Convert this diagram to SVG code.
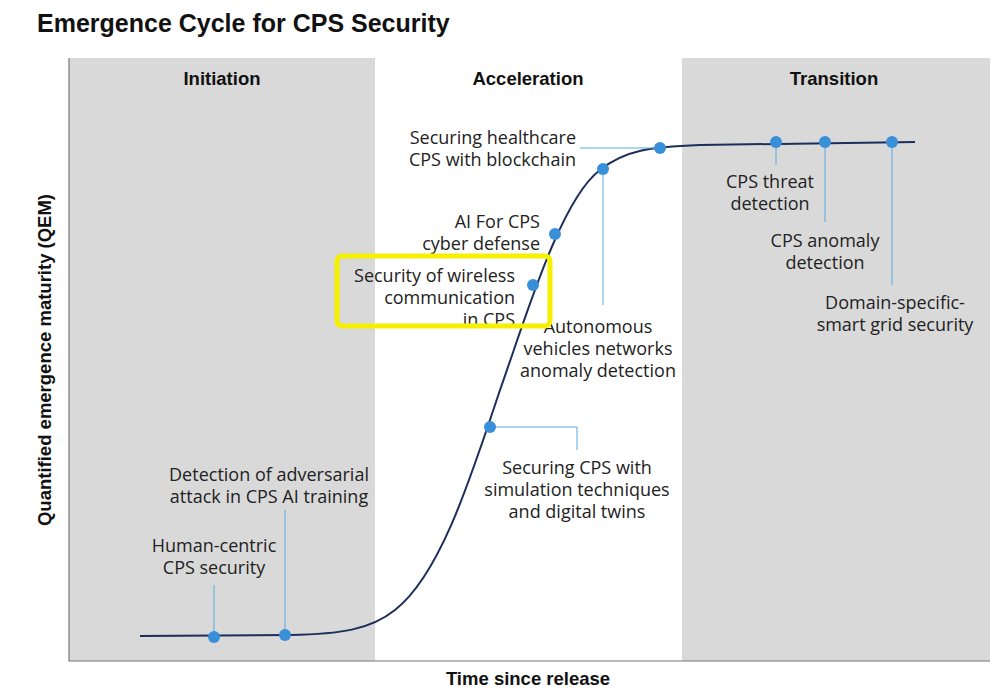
<svg xmlns="http://www.w3.org/2000/svg" width="998" height="691" viewBox="0 0 998 691">
<style>
.t{font-family:"Open Sans","Liberation Sans",Arial,sans-serif;font-size:18px;fill:#222}
.h{font-family:"Liberation Sans",Arial,sans-serif;font-size:18.5px;font-weight:bold;fill:#111;text-anchor:middle}
.ld{stroke:#5aa9e0;stroke-width:1;fill:none}
.d{fill:#3a8fd9}
</style>
<rect width="998" height="691" fill="#fff"/>
<text x="37" y="32" style="font-family:'Liberation Sans',Arial,sans-serif;font-size:25px;font-weight:bold;fill:#111">Emergence Cycle for CPS Security</text>
<g id="panels">
<rect x="69" y="58" width="306" height="603" fill="#d9d9d9"/>
<rect x="682" y="58" width="308" height="603" fill="#d9d9d9"/>
<path d="M69 58V661H990" stroke="#777" stroke-width="1.2" fill="none"/>
</g>
<text class="h" x="222" y="85">Initiation</text>
<text class="h" x="528" y="85">Acceleration</text>
<text class="h" x="834" y="85">Transition</text>
<text class="h" x="528" y="685">Time since release</text>
<text class="h" transform="translate(51 360) rotate(-90)">Quantified emergence maturity (QEM)</text>
<g id="connectors">
<path d="M140 636 L290 635 C340 634 370 630 395 610 C440 575 470 480 500 390 C525 320 560 200 600 170 C625 150 650 147 700 145 L915 142" stroke="#1c2e5a" stroke-width="2" fill="none"/>
<path class="ld" d="M214 637V585M285 635V510M490 427H577V450M603 169V305M660 148H580M776 142V165M825 142V222M892 142V285"/>
</g>
<g id="dots">
<circle class="d" cx="214" cy="637" r="6"/><circle class="d" cx="285" cy="635" r="6"/>
<circle class="d" cx="490" cy="427" r="6"/><circle class="d" cx="533" cy="285" r="6"/>
<circle class="d" cx="555" cy="234" r="6"/><circle class="d" cx="603" cy="169" r="6"/>
<circle class="d" cx="660" cy="148" r="6"/><circle class="d" cx="776" cy="142" r="6"/>
<circle class="d" cx="825" cy="142" r="6"/><circle class="d" cx="892" cy="142" r="6"/>
</g>
<g id="labels">
<text class="t" text-anchor="middle"><tspan x="214" y="552">Human-centric</tspan><tspan x="214" y="574">CPS security</tspan></text>
<text class="t" text-anchor="middle"><tspan x="269" y="481">Detection of adversarial</tspan><tspan x="269" y="503">attack in CPS AI training</tspan></text>
<text class="t" text-anchor="middle"><tspan x="577" y="474">Securing CPS with</tspan><tspan x="577" y="496">simulation techniques</tspan><tspan x="577" y="518">and digital twins</tspan></text>
<text class="t" text-anchor="end"><tspan x="515" y="282">Security of wireless</tspan><tspan x="515" y="304">communication</tspan><tspan x="515" y="326">in CPS</tspan></text>
<text class="t" text-anchor="end"><tspan x="540" y="228">AI For CPS</tspan><tspan x="540" y="250">cyber defense</tspan></text>
<text class="t" text-anchor="end"><tspan x="576" y="144">Securing healthcare</tspan><tspan x="576" y="166">CPS with blockchain</tspan></text>
<text class="t" text-anchor="middle"><tspan x="598" y="333">Autonomous</tspan><tspan x="598" y="355">vehicles networks</tspan><tspan x="598" y="377">anomaly detection</tspan></text>
<text class="t" text-anchor="middle"><tspan x="770" y="188">CPS threat</tspan><tspan x="770" y="210">detection</tspan></text>
<text class="t" text-anchor="middle"><tspan x="825" y="247">CPS anomaly</tspan><tspan x="825" y="269">detection</tspan></text>
<text class="t" text-anchor="middle"><tspan x="895" y="309">Domain-specific-</tspan><tspan x="895" y="331">smart grid security</tspan></text>
</g>
<rect x="337" y="256" width="213" height="70" rx="5" fill="none" stroke="#f5f000" stroke-width="5"/>
</svg>
